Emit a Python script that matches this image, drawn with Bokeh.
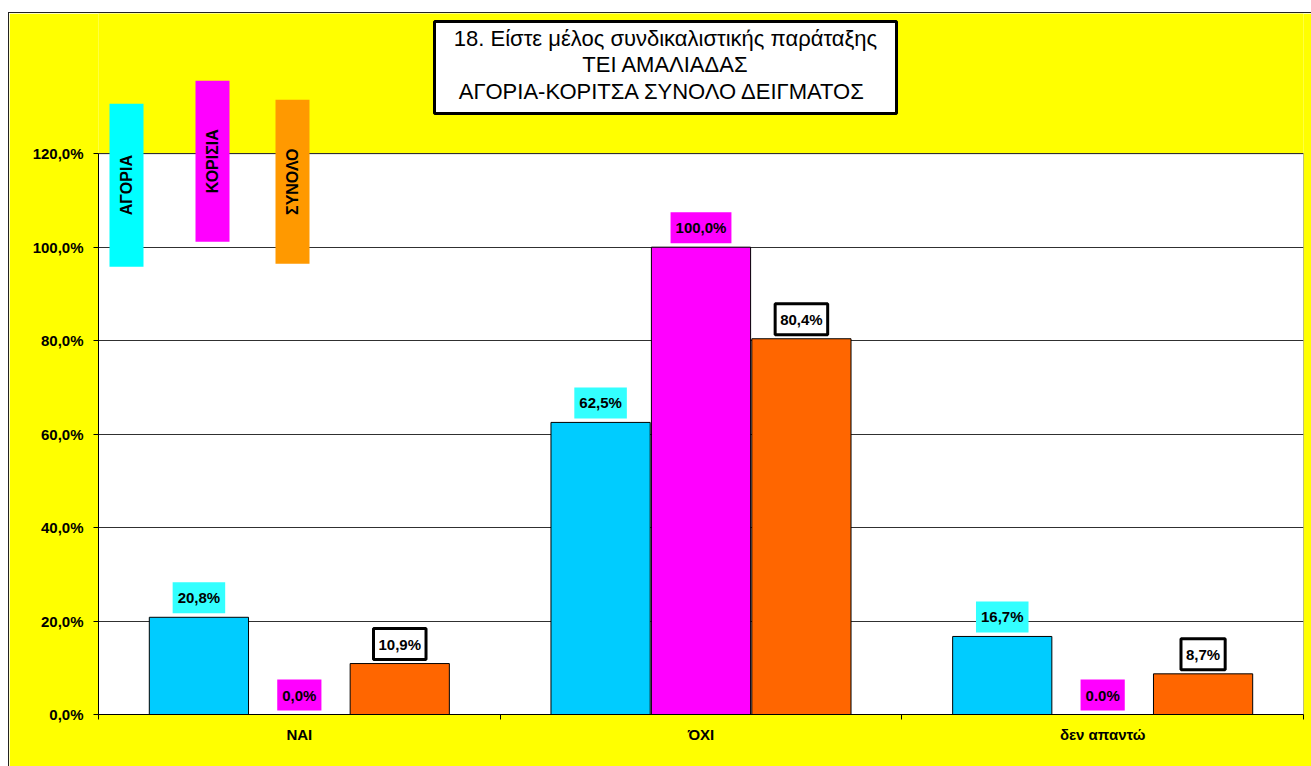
import math
from bokeh.plotting import figure
from bokeh.models import Range1d, FixedTicker, ColumnDataSource
from bokeh.core.properties import value
from bokeh.embed import file_html
from bokeh.resources import INLINE

# ---------------- data ----------------
categories = ["ΝΑΙ", "ΌΧΙ", "δεν απαντώ"]
series_names = ["ΑΓΟΡΙΑ", "ΚΟΡΙΣΙΑ", "ΣΥΝΟΛΟ"]
agoria = [20.8, 62.5, 16.7]
koritsia = [0.0, 100.0, 0.0]
synolo = [10.9, 80.4, 8.7]
agoria_labels = ["20,8%", "62,5%", "16,7%"]
koritsia_labels = ["0,0%", "100,0%", "0.0%"]
synolo_labels = ["10,9%", "80,4%", "8,7%"]
y_ticks = [0, 20, 40, 60, 80, 100, 120]
y_tick_labels = ["0,0%", "20,0%", "40,0%", "60,0%", "80,0%", "100,0%", "120,0%"]
title_lines = ["18. Είστε μέλος συνδικαλιστικής παράταξης",
               "ΤΕΙ ΑΜΑΛΙΑΔΑΣ",
               "ΑΓΟΡΙΑ-ΚΟΡΙΤΣΑ  ΣΥΝΟΛΟ ΔΕΙΓΜΑΤΟΣ"]

# ---------------- styles ----------------
FONT_NAME = "Liberation Sans"
FONT = value(FONT_NAME)
YELLOW = "#FFFF00"
bar_colors = ["#00CCFF", "#FF00FF", "#FF6600"]
legend_colors = ["#00FFFF", "#FF00FF", "#FF9900"]
label_bg = ["#33FFFF", "#FF00FF", "#FFFFFF"]
label_border = [None, None, "black"]
label_border_w = [0, 0, 3]

W, H = 1303, 754
p = figure(width=W, height=H, output_backend="svg", toolbar_location=None,
           x_range=Range1d(0, 3), y_range=Range1d(0, 150),
           min_border_left=89, min_border_right=9, min_border_top=0, min_border_bottom=53)
p.margin = (12, 0, 0, 8)
p.styles = {"border-left": "1px solid #222", "border-top": "1px solid #222"}
p.background_fill_color = YELLOW
p.border_fill_color = YELLOW
p.outline_line_color = None

# plot area (white) below grid
p.quad(left=[0], right=[3], bottom=[0], top=[y_ticks[-1]], fill_color="white",
       line_color="#808080", line_width=1, level="image")

# grid
p.xgrid.visible = False
p.ygrid.ticker = FixedTicker(ticks=y_ticks[1:])
p.ygrid.grid_line_color = "#303030"
p.ygrid.grid_line_width = 1

# axes
p.yaxis.ticker = FixedTicker(ticks=y_ticks)
p.yaxis.major_label_overrides = {t: l for t, l in zip(y_ticks, y_tick_labels)}
p.yaxis.bounds = (0, y_ticks[-1])
p.yaxis.axis_line_color = "black"
p.yaxis.major_tick_line_color = "black"
p.yaxis.major_tick_out = 5
p.yaxis.major_tick_in = 0
p.yaxis.minor_tick_line_color = None
p.yaxis.major_label_standoff = 10
p.yaxis.major_label_text_font = FONT_NAME
p.yaxis.major_label_text_font_style = "bold"
p.yaxis.major_label_text_font_size = "15px"
p.yaxis.major_label_text_color = "black"

centers = [i + 0.5 for i in range(len(categories))]
p.xaxis.ticker = FixedTicker(ticks=centers, minor_ticks=list(range(len(categories) + 1)))
p.xaxis.major_label_overrides = {c: l for c, l in zip(centers, categories)}
p.xaxis.axis_line_color = "black"
p.xaxis.major_tick_line_color = None
p.xaxis.major_tick_out = 0
p.xaxis.minor_tick_line_color = "black"
p.xaxis.minor_tick_out = 5
p.xaxis.minor_tick_in = 0
p.xaxis.major_label_standoff = 6
p.xaxis.major_label_text_font = FONT_NAME
p.xaxis.major_label_text_font_style = "bold"
p.xaxis.major_label_text_font_size = "15px"
p.xaxis.major_label_text_color = "black"

# bars
bar_w = 0.247
offsets = [-0.25, 0.0, 0.25]
all_vals = [agoria, koritsia, synolo]
all_labels = [agoria_labels, koritsia_labels, synolo_labels]
for k in range(3):
    xs = [c + offsets[k] for c in centers]
    src = ColumnDataSource(dict(x=xs, top=all_vals[k], lab=all_labels[k]))
    p.vbar(x="x", top="top", bottom=0, width=bar_w, source=src,
           fill_color=bar_colors[k], line_color="black", line_width=1)
for k in range(3):
    xs = [c + offsets[k] for c in centers]
    src = ColumnDataSource(dict(x=xs, top=all_vals[k], lab=all_labels[k]))
    kw = {}
    if label_border[k]:
        kw = dict(border_line_color=label_border[k], border_line_width=label_border_w[k])
    p.text(x="x", y="top", text="lab", source=src, text_align="center",
           text_baseline="bottom", y_offset=-4, text_font=FONT,
           text_font_style="bold", text_font_size="15px", text_color="black",
           background_fill_color=label_bg[k], padding=dict(x=5, y=7), **kw)

# legend boxes (vertical)
ppx = 1205 / 3.0   # px per x unit
ppy = 701 / 150.0  # px per y unit
leg_left_px = [11, 97, 177]
leg_top_px = [50, 73, 54]  # from top of plot area (120%)
leg_h_px = [163, 161, 164]
leg_w_px = 34
for k in range(3):
    l = leg_left_px[k] / ppx
    r = (leg_left_px[k] + leg_w_px) / ppx
    t = 120 + leg_top_px[k] / ppy
    b = t - leg_h_px[k] / ppy
    p.quad(left=[l], right=[r], top=[t], bottom=[b], fill_color=legend_colors[k], line_color=None)
    p.text(x=[(l + r) / 2], y=[(t + b) / 2], text=[series_names[k]], angle=math.pi / 2,
           text_align="center", text_baseline="middle", text_font=FONT,
           text_font_style="bold", text_font_size="16px", text_color="black")

# title box
tl, tr = (433 - 97) / ppx, (895 - 97) / ppx
tt, tb = (713 - 20) / ppy, (713 - 112) / ppy
p.quad(left=[tl], right=[tr], top=[tt], bottom=[tb], fill_color="white",
       line_color="black", line_width=3)
line_y_px = [37, 63, 90]
p.text(x=[(tl + tr) / 2] * 3, y=[(713 - yy) / ppy for yy in line_y_px], text=title_lines,
       text_align="center", text_baseline="middle", text_font=FONT,
       text_font_size="22px", text_color="black")

open("out.html", "w").write(file_html(p, INLINE))
